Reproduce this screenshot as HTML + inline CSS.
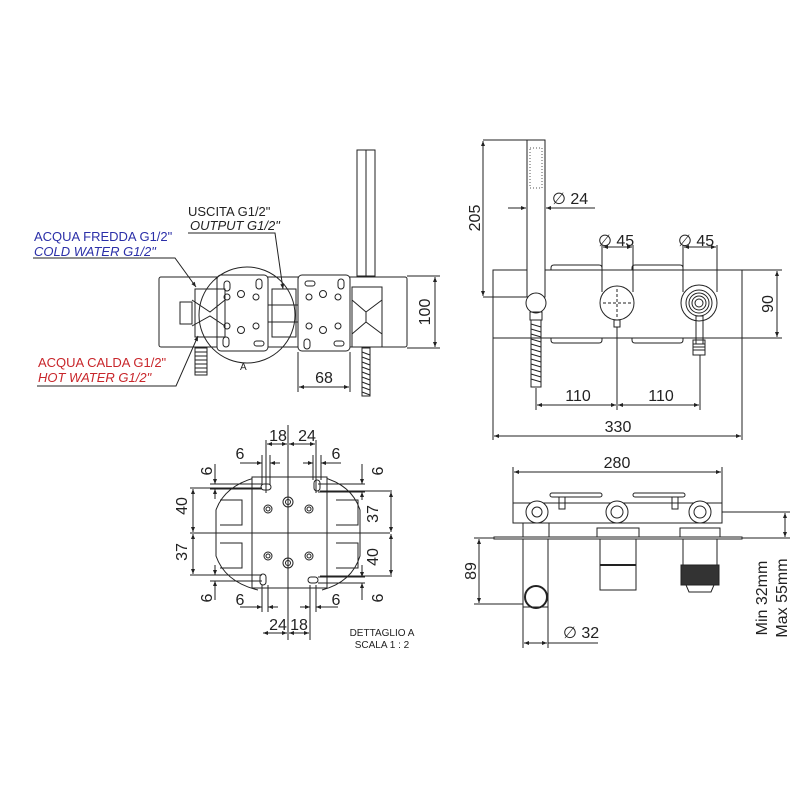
<!DOCTYPE html>
<html><head><meta charset="utf-8"><style>
html,body{margin:0;padding:0;background:#fff;width:800px;height:800px;overflow:hidden}
svg{display:block}
text{font-family:"Liberation Sans",sans-serif;fill:#222}
</style></head><body>
<svg width="800" height="800" viewBox="0 0 800 800" xmlns="http://www.w3.org/2000/svg">
<defs>
<marker id="a" viewBox="0 0 10 10" refX="10" refY="5" markerWidth="7" markerHeight="5" orient="auto-start-reverse"><path d="M0,1 L10,5 L0,9 z" fill="#222"/></marker>
</defs>
<g fill="none" stroke="#222" stroke-width="1">
<rect x="159" y="277" width="248" height="70" rx="2"/>
<rect x="217" y="275" width="51" height="76" rx="4" fill="#fff"/>
<rect x="298" y="275" width="52" height="76" rx="4" fill="#fff"/>
<circle cx="247" cy="315" r="48"/>
<rect x="357" y="150" width="18" height="126"/>
<line x1="366" y1="150" x2="366" y2="276"/>
<rect x="352" y="287" width="30" height="60"/>
<path d="M352 300 L366 312 L382 300 M352 334 L366 322 L382 334 M366 312 L366 322"/>
<rect x="195" y="289" width="30" height="48"/>
<rect x="180" y="302" width="12" height="22"/>
<path d="M192 300 L210 312 L225 300 M192 326 L210 316 L225 326"/>
<rect x="272" y="289" width="24" height="48"/>
<path d="M268 305 L298 305 M268 322 L298 322"/>
<rect x="195" y="348" width="12" height="27"/>
<path d="M195 352h12M195 356h12M195 360h12M195 364h12M195 368h12M195 372h12"/>
<rect x="362" y="348" width="8" height="48"/>
<path d="M362 352l8 3M362 357l8 3M362 362l8 3M362 367l8 3M362 372l8 3M362 377l8 3M362 382l8 3M362 387l8 3M362 392l8 3"/>
<g>
<rect x="224" y="281" width="6" height="10" rx="3"/><rect x="256" y="279" width="6" height="10" rx="3"/>
<rect x="223" y="337" width="6" height="10" rx="3"/><rect x="254" y="341" width="10" height="5" rx="2.5"/>
<circle cx="227" cy="297" r="3"/><circle cx="241" cy="294" r="3.5"/><circle cx="256" cy="297" r="3"/>
<circle cx="227" cy="326" r="3"/><circle cx="241" cy="330" r="3.5"/><circle cx="256" cy="326" r="3"/>
<rect x="305" y="281" width="10" height="5" rx="2.5"/><rect x="338" y="279" width="6" height="10" rx="3"/>
<rect x="304" y="339" width="6" height="10" rx="3"/><rect x="334" y="341" width="10" height="5" rx="2.5"/>
<circle cx="309" cy="297" r="3"/><circle cx="323" cy="294" r="3.5"/><circle cx="338" cy="297" r="3"/>
<circle cx="309" cy="326" r="3"/><circle cx="323" cy="330" r="3.5"/><circle cx="338" cy="326" r="3"/>
</g>
<line x1="407" y1="276" x2="440" y2="276"/><line x1="407" y1="348" x2="440" y2="348"/>
<line x1="435" y1="277" x2="435" y2="347" marker-start="url(#a)" marker-end="url(#a)"/>
<line x1="298" y1="352" x2="298" y2="392"/><line x1="350" y1="352" x2="350" y2="392"/>
<line x1="299" y1="387" x2="349" y2="387" marker-start="url(#a)" marker-end="url(#a)"/>
<polyline points="188,233 275,233 283,289" marker-end="url(#a)"/>
<polyline points="33,258 175,258 196,287" marker-end="url(#a)"/>
<polyline points="37,386 176,386 198,336" marker-end="url(#a)"/>

<rect x="493" y="270" width="249" height="68"/>
<path d="M551 270 v-2 q0 -3 3 -3 h45 q3 0 3 3 v2 M632 270 v-2 q0 -3 3 -3 h45 q3 0 3 3 v2"/>
<path d="M551 338 v2 q0 3 3 3 h45 q3 0 3 -3 v-2 M632 338 v2 q0 3 3 3 h45 q3 0 3 -3 v-2"/>
<rect x="527" y="140" width="18" height="157" fill="#fff"/>
<circle cx="536" cy="303" r="10" fill="#fff"/>
<rect x="530" y="312" width="12" height="8"/>
<rect x="531" y="320" width="10" height="67"/>
<path d="M531 324l10 3M531 329l10 3M531 334l10 3M531 339l10 3M531 344l10 3M531 349l10 3M531 354l10 3M531 359l10 3M531 364l10 3M531 369l10 3M531 374l10 3M531 379l10 3"/>
<circle cx="617" cy="303" r="17"/>
<path d="M603 303h28M617 289v28" stroke-dasharray="3 2"/>
<rect x="614" y="320" width="6" height="7"/>
<circle cx="699" cy="303" r="18"/><circle cx="699" cy="303" r="13"/><circle cx="699" cy="303" r="10"/><circle cx="699" cy="303" r="7"/><circle cx="699" cy="303" r="4"/>
<rect x="696" y="316" width="7" height="28"/>
<rect x="693" y="340" width="12" height="15"/>
<path d="M693 344h12M693 347h12M693 350h12"/>
<line x1="483" y1="140" x2="545" y2="140"/><line x1="483" y1="297" x2="527" y2="297"/>
<line x1="483" y1="141" x2="483" y2="296" marker-start="url(#a)" marker-end="url(#a)"/>
<line x1="508" y1="208" x2="526" y2="208" marker-end="url(#a)"/>
<line x1="546" y1="208" x2="595" y2="208" marker-start="url(#a)"/>
<line x1="602" y1="245" x2="602" y2="292"/><line x1="633" y1="245" x2="633" y2="292"/>
<line x1="603" y1="247" x2="632" y2="247" marker-start="url(#a)" marker-end="url(#a)"/>
<line x1="683" y1="245" x2="683" y2="292"/><line x1="717" y1="245" x2="717" y2="292"/>
<line x1="684" y1="247" x2="716" y2="247" marker-start="url(#a)" marker-end="url(#a)"/>
<line x1="742" y1="270" x2="782" y2="270"/><line x1="742" y1="338" x2="782" y2="338"/>
<line x1="777" y1="271" x2="777" y2="337" marker-start="url(#a)" marker-end="url(#a)"/>
<line x1="536" y1="388" x2="536" y2="410"/><line x1="617" y1="327" x2="617" y2="410"/><line x1="700" y1="355" x2="700" y2="410"/>
<line x1="537" y1="405" x2="616" y2="405" marker-start="url(#a)" marker-end="url(#a)"/>
<line x1="618" y1="405" x2="699" y2="405" marker-start="url(#a)" marker-end="url(#a)"/>
<line x1="493" y1="338" x2="493" y2="440"/><line x1="742" y1="338" x2="742" y2="440"/>
<line x1="494" y1="436" x2="741" y2="436" marker-start="url(#a)" marker-end="url(#a)"/>

<line x1="513" y1="467" x2="513" y2="503"/><line x1="722" y1="467" x2="722" y2="503"/>
<line x1="514" y1="472" x2="721" y2="472" marker-start="url(#a)" marker-end="url(#a)"/>
<rect x="550" y="493" width="52" height="4" rx="2"/><rect x="633" y="493" width="52" height="4" rx="2"/>
<rect x="513" y="503" width="209" height="20"/>
<rect x="559" y="497" width="6" height="12"/><rect x="672" y="497" width="6" height="12"/>
<circle cx="537" cy="512" r="11" fill="#fff"/><circle cx="537" cy="512" r="5"/>
<circle cx="617" cy="512" r="11" fill="#fff"/><circle cx="617" cy="512" r="6"/>
<circle cx="700" cy="512" r="11" fill="#fff"/><circle cx="700" cy="512" r="6"/>
<rect x="523" y="523" width="26" height="14"/>
<rect x="597" y="528" width="42" height="9"/><rect x="680" y="528" width="40" height="9"/>
<rect x="494" y="537" width="248" height="2"/>
<rect x="523" y="539" width="25" height="68"/>
<circle cx="536" cy="597" r="11" stroke-width="2"/>
<rect x="600" y="539" width="36" height="51"/><line x1="600" y1="565" x2="636" y2="565" stroke-width="2"/>
<rect x="683" y="539" width="34" height="26"/>
<rect x="681" y="565" width="38" height="20" fill="#333"/>
<path d="M686 585h28l-3 7h-22z"/>
<line x1="722" y1="512" x2="790" y2="512"/><line x1="742" y1="538" x2="790" y2="538"/>
<line x1="785" y1="513" x2="785" y2="537" marker-start="url(#a)" marker-end="url(#a)"/>
<line x1="474" y1="538" x2="494" y2="538"/><line x1="474" y1="604" x2="523" y2="604"/>
<line x1="479" y1="539" x2="479" y2="603" marker-start="url(#a)" marker-end="url(#a)"/>
<line x1="523" y1="607" x2="523" y2="648"/><line x1="548" y1="607" x2="548" y2="648"/>
<line x1="524" y1="643" x2="547" y2="643" marker-start="url(#a)" marker-end="url(#a)"/>
<line x1="548" y1="643" x2="598" y2="643"/>

<path d="M258 477 Q225 485 216 510 L216 556 Q225 582 258 590"/>
<path d="M322 477 Q352 485 360 510 L360 556 Q352 582 322 590"/>
<rect x="252" y="477" width="75" height="111" fill="#fff"/>
<path d="M220 500h22v25h-22M220 543h22v25h-22M336 500h22v25h-22M336 543h22v25h-22"/>
<rect x="261" y="484" width="10" height="6" rx="3"/><rect x="314" y="480" width="6" height="11" rx="3"/>
<rect x="260" y="574" width="6" height="11" rx="3"/><rect x="308" y="577" width="10" height="6" rx="3"/>
<circle cx="268" cy="509" r="4"/><circle cx="268" cy="509" r="2"/>
<circle cx="288" cy="502" r="5"/><circle cx="288" cy="502" r="2.5"/>
<circle cx="309" cy="509" r="4"/><circle cx="309" cy="509" r="2"/>
<circle cx="268" cy="556" r="4"/><circle cx="268" cy="556" r="2"/>
<circle cx="288" cy="563" r="5"/><circle cx="288" cy="563" r="2.5"/>
<circle cx="309" cy="556" r="4"/><circle cx="309" cy="556" r="2"/>
<line x1="288" y1="425" x2="288" y2="640"/>
<line x1="190" y1="533" x2="390" y2="533"/>
<line x1="266" y1="440" x2="266" y2="493"/><line x1="316" y1="440" x2="316" y2="493"/>
<line x1="267" y1="444" x2="287" y2="444" marker-start="url(#a)" marker-end="url(#a)"/>
<line x1="289" y1="444" x2="315" y2="444" marker-start="url(#a)" marker-end="url(#a)"/>
<line x1="262" y1="455" x2="262" y2="485"/><line x1="270" y1="455" x2="270" y2="485"/>
<line x1="240" y1="463" x2="262" y2="463" marker-end="url(#a)"/><line x1="270" y1="463" x2="280" y2="463" marker-start="url(#a)"/>
<line x1="313" y1="455" x2="313" y2="480"/><line x1="321" y1="455" x2="321" y2="480"/>
<line x1="303" y1="463" x2="313" y2="463" marker-end="url(#a)"/><line x1="321" y1="463" x2="341" y2="463" marker-start="url(#a)"/>
<line x1="210" y1="484" x2="262" y2="484"/><line x1="210" y1="489" x2="262" y2="489"/>
<line x1="215" y1="464" x2="215" y2="484" marker-end="url(#a)"/><line x1="215" y1="489" x2="215" y2="499" marker-start="url(#a)"/>
<line x1="190" y1="488" x2="262" y2="488"/>
<line x1="193" y1="489" x2="193" y2="532" marker-start="url(#a)" marker-end="url(#a)"/>
<line x1="193" y1="534" x2="193" y2="574" marker-start="url(#a)" marker-end="url(#a)"/>
<line x1="190" y1="575" x2="262" y2="575"/><line x1="210" y1="581" x2="262" y2="581"/>
<line x1="215" y1="565" x2="215" y2="575" marker-end="url(#a)"/><line x1="215" y1="581" x2="215" y2="600" marker-start="url(#a)"/>
<line x1="318" y1="484" x2="365" y2="484"/><line x1="318" y1="492" x2="365" y2="492"/><line x1="318" y1="577" x2="365" y2="577"/><line x1="318" y1="583" x2="365" y2="583"/>
<line x1="362" y1="464" x2="362" y2="484" marker-end="url(#a)"/><line x1="362" y1="492" x2="362" y2="500" marker-start="url(#a)"/>
<line x1="320" y1="491" x2="392" y2="491"/><line x1="320" y1="576" x2="392" y2="576"/>
<line x1="391" y1="492" x2="391" y2="532" marker-start="url(#a)" marker-end="url(#a)"/>
<line x1="391" y1="534" x2="391" y2="575" marker-start="url(#a)" marker-end="url(#a)"/>
<line x1="362" y1="565" x2="362" y2="577" marker-end="url(#a)"/><line x1="362" y1="583" x2="362" y2="600" marker-start="url(#a)"/>
<line x1="262" y1="585" x2="262" y2="612"/><line x1="268" y1="585" x2="268" y2="612"/>
<line x1="240" y1="607" x2="262" y2="607" marker-end="url(#a)"/><line x1="268" y1="607" x2="278" y2="607" marker-start="url(#a)"/>
<line x1="310" y1="585" x2="310" y2="640"/><line x1="316" y1="585" x2="316" y2="612"/>
<line x1="300" y1="607" x2="310" y2="607" marker-end="url(#a)"/><line x1="316" y1="607" x2="338" y2="607" marker-start="url(#a)"/>
<line x1="263" y1="633" x2="287" y2="633" marker-start="url(#a)" marker-end="url(#a)"/>
<line x1="289" y1="633" x2="309" y2="633" marker-start="url(#a)" marker-end="url(#a)"/>
</g>
<rect x="530" y="148" width="12" height="40" fill="none" stroke="#555" stroke-dasharray="1 2"/>
<g font-size="13">
<text x="188" y="216">USCITA G1/2"</text>
<text x="190" y="230" font-style="italic">OUTPUT G1/2"</text>
<text x="34" y="241" style="fill:#2b2fa8">ACQUA FREDDA G1/2"</text>
<text x="34" y="256" font-style="italic" style="fill:#2b2fa8">COLD WATER G1/2"</text>
<text x="38" y="367" style="fill:#c8262b">ACQUA CALDA G1/2"</text>
<text x="38" y="382" font-style="italic" style="fill:#c8262b">HOT WATER G1/2"</text>
<text x="240" y="370" font-size="10">A</text>
</g>
<g font-size="16">
<text transform="translate(430,312) rotate(-90)" text-anchor="middle">100</text>
<text x="324" y="383" text-anchor="middle">68</text>
<text transform="translate(480,218) rotate(-90)" text-anchor="middle">205</text>
<text x="552" y="204">∅ 24</text>
<text x="598" y="246">∅ 45</text>
<text x="678" y="246">∅ 45</text>
<text transform="translate(773,304) rotate(-90)" text-anchor="middle">90</text>
<text x="578" y="401" text-anchor="middle">110</text>
<text x="661" y="401" text-anchor="middle">110</text>
<text x="618" y="432" text-anchor="middle">330</text>
<text x="617" y="468" text-anchor="middle">280</text>
<text transform="translate(476,571) rotate(-90)" text-anchor="middle">89</text>
<text x="563" y="638">∅ 32</text>
<text transform="translate(767,598) rotate(-90)" text-anchor="middle">Min 32mm</text>
<text transform="translate(787,598) rotate(-90)" text-anchor="middle">Max 55mm</text>
<text x="278" y="441" text-anchor="middle">18</text>
<text x="307" y="441" text-anchor="middle">24</text>
<text x="240" y="459" text-anchor="middle">6</text>
<text x="336" y="459" text-anchor="middle">6</text>
<text transform="translate(212,471) rotate(-90)" text-anchor="middle">6</text>
<text transform="translate(187,506) rotate(-90)" text-anchor="middle">40</text>
<text transform="translate(187,552) rotate(-90)" text-anchor="middle">37</text>
<text transform="translate(212,598) rotate(-90)" text-anchor="middle">6</text>
<text x="240" y="605" text-anchor="middle">6</text>
<text x="336" y="605" text-anchor="middle">6</text>
<text x="278" y="630" text-anchor="middle">24</text>
<text x="299" y="630" text-anchor="middle">18</text>
<text transform="translate(383,471) rotate(-90)" text-anchor="middle">6</text>
<text transform="translate(378,514) rotate(-90)" text-anchor="middle">37</text>
<text transform="translate(378,557) rotate(-90)" text-anchor="middle">40</text>
<text transform="translate(383,598) rotate(-90)" text-anchor="middle">6</text>
</g>
<g font-size="10">
<text x="382" y="636" text-anchor="middle">DETTAGLIO A</text>
<text x="382" y="648" text-anchor="middle">SCALA 1 : 2</text>
</g>
</svg>
</body></html>
